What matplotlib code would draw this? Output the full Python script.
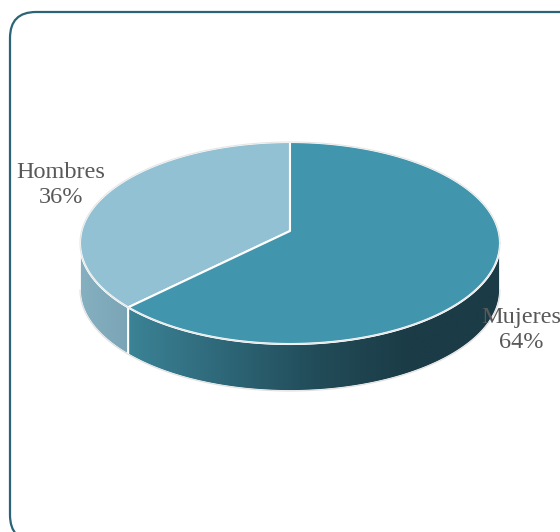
import matplotlib.pyplot as plt
import numpy as np
from matplotlib.colors import LinearSegmentedColormap
from matplotlib.patches import FancyBboxPatch, Polygon

# slice data, drawn counterclockwise from 12 o'clock
labels = ["Hombres", "Mujeres"]
values = [36, 64]
top_colors = ["#92c1d3", "#4195ad"]

# 3-D pie geometry in pixels (apex sits a bit above the ellipse centre)
CX, CY = 290.0, 243.0
RX, RY = 210.0, 101.0
APEX_Y = 231.0
DEPTH = 47.0


def rim(t0, t1, n=200, drop=0.0):
    t = np.radians(np.linspace(t0, t1, n))
    return np.column_stack([CX + RX * np.cos(t), CY - RY * np.sin(t) + drop])


fig = plt.figure(figsize=(5.6, 5.32), dpi=100)
ax = fig.add_axes([0, 0, 1, 1])
ax.set_xlim(0, 560)
ax.set_ylim(532, 0)
ax.axis("off")

frame = FancyBboxPatch((10, 12), 590, 529, boxstyle="round,pad=0,rounding_size=26",
                       facecolor="white", edgecolor="#2b6476", linewidth=1.6, zorder=0)
ax.add_patch(frame)

total = float(sum(values))
spans = []
start = 90.0
for v in values:
    end = start + 360.0 * v / total
    spans.append((start, end))
    start = end

side_cmaps = [
    LinearSegmentedColormap.from_list("h", ["#86b0c0", "#7aa5b6"]),
    LinearSegmentedColormap.from_list("m", ["#3b8396", "#2e6879", "#224c59", "#1b3c47", "#1b3b46"]),
]

# front walls (only the part facing the viewer, 180..360 deg)
for (t0, t1), cmap in zip(spans, side_cmaps):
    a = max(t0, 180.0)
    b = min(t1, 360.0)
    if a >= b:
        continue
    top = rim(a, b)
    bottom = rim(b, a, drop=DEPTH)
    outline = np.vstack([top, bottom])
    ax.add_patch(Polygon(outline, closed=True, facecolor="none",
                         edgecolor="white", linewidth=1.3, zorder=2))
    xmin, xmax = top[:, 0].min(), top[:, 0].max()
    grad = np.linspace(0, 1, 256)[None, :]
    img = ax.imshow(grad, cmap=cmap, aspect="auto", zorder=1,
                    extent=[xmin, xmax, CY + RY + DEPTH + 2, CY - 5])
    img.set_clip_path(Polygon(outline, closed=True, transform=ax.transData))

# top faces
for (t0, t1), color in zip(spans, top_colors):
    pts = np.vstack([[CX, APEX_Y], rim(t0, t1)])
    ax.add_patch(Polygon(pts, closed=True, facecolor=color, edgecolor="white",
                         linewidth=1.5, joinstyle="round", zorder=3))

# outer outline of the disc
ax.plot(*rim(0, 360, 400).T, color="#e6e6e6", linewidth=0.8, zorder=4)
ax.plot(*rim(180, 360, 200, drop=DEPTH).T, color="#e0e0e0", linewidth=0.8, zorder=4)

label_pos = {"Hombres": (61, 185), "Mujeres": (521, 330)}
for name, v in zip(labels, values):
    x, y = label_pos[name]
    ax.text(x, y, f"{name}\n{v / total:.0%}", ha="center", va="center",
            fontsize=17.5, family="Liberation Serif", color="#595959",
            linespacing=1.2, zorder=5)

fig.savefig("out.png", dpi=100)
